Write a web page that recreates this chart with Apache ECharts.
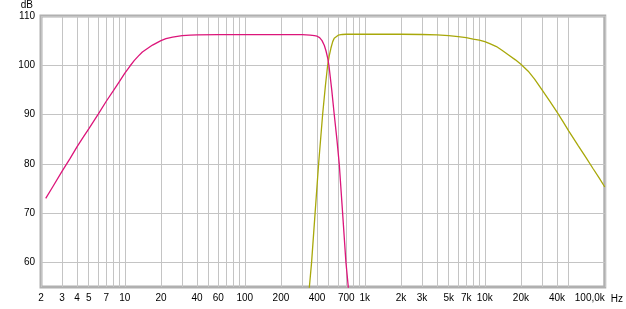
<!DOCTYPE html>
<html>
<head>
<meta charset="utf-8">
<script src="https://cdn.jsdelivr.net/npm/echarts@6/dist/echarts.min.js"></script>
<style>
html,body{margin:0;padding:0;background:#fff;}
#chart{width:626px;height:309px;}
</style>
</head>
<body>
<div id="chart"></div>
<script>
// Frequencies (Hz) of the x-axis labels and their texts
var xLabelFreqs = [2,3,4,5,7,10,20,40,60,100,200,400,700,1000,2000,3000,5000,7000,10000,20000,40000,100000];
var xLabelTexts = ['2','3','4','5','7','10','20','40','60','100','200','400','700','1k','2k','3k','5k','7k','10k','20k','40k','100,0k'];
// Frequencies (Hz) of vertical grid lines
var xGridFreqs = [2,3,4,5,6,7,8,9,10,20,30,40,50,60,70,80,90,100,200,300,400,500,600,700,800,900,1000,2000,3000,4000,5000,6000,7000,8000,9000,10000,20000,30000,40000,50000,100000];
// y-axis ticks (dB)
var yTicks = [60,70,80,90,100,110];

// Magenta curve (low-pass side): frequency (Hz) and level (dB)
var magentaFreq = [2.19,2.5,3,3.5,4,4.5,5,6,7,8,9,10,11,12,13,14,15,17,20,22,25,30,35,40,60,100,200,300,350,380,400,420,440,460,475,490,502,530,556,585,612,653,696,728,760];
var magentaDb   = [73.0,75.3,78.5,81.1,83.5,85.4,87.1,90.1,92.7,94.8,96.7,98.4,99.8,101.0,101.9,102.7,103.2,104.1,105.0,105.4,105.7,106.0,106.1,106.15,106.2,106.2,106.2,106.2,106.1,106.0,105.9,105.6,105.0,104.0,102.9,101.5,100.0,95.0,90.0,85.0,80.0,70.0,60.0,55.0,50.0];

// Olive curve (high-pass side + HF roll-off)
var oliveFreq = [330,345,360,385,412,445,470,490,505,522,540,556,575,600,650,700,1000,2000,3000,4000,5000,6000,7000,8000,9000,10000,11000,12500,14000,16000,18000,20000,23000,26000,30000,35000,40000,45000,50000,60000,70000,80000,90000,100000];
var oliveDb   = [50.0,55.0,60.0,70.0,80.0,90.0,96.0,100.0,101.9,103.5,104.8,105.5,105.85,106.1,106.25,106.3,106.3,106.3,106.25,106.15,106.0,105.8,105.6,105.3,105.1,104.8,104.4,103.8,103.0,102.0,101.1,100.2,98.8,97.2,95.0,92.6,90.5,88.5,86.7,83.7,81.2,79.0,77.1,75.3];

function lg(v){ return Math.log10(v); }
function pairs(fs, ds){ return fs.map(function(f,i){ return [lg(f), ds[i]]; }); }

var chart = echarts.init(document.getElementById('chart'), null, {renderer:'canvas'});
var font = 'Liberation Sans, Arial, sans-serif';

chart.setOption({
  animation: false,
  backgroundColor: '#ffffff',
  grid: {
    left: 41, right: 20, top: 16, bottom: 22,
    show: true, borderColor: '#b0b0b0', borderWidth: 3, backgroundColor: '#ffffff'
  },
  xAxis: {
    type: 'value',
    min: lg(2), max: lg(100000),
    name: 'Hz', nameLocation: 'end', nameGap: 6,
    nameTextStyle: {fontFamily: font, fontSize: 10, color: '#000', verticalAlign: 'top', padding: [7,0,0,0]},
    axisLine: {show: false},
    axisTick: {show: false, customValues: xGridFreqs.map(lg)},
    splitLine: {show: true, lineStyle: {color: '#c4c4c4', width: 1}},
    axisLabel: {
      customValues: xLabelFreqs.map(lg),
      margin: 6,
      fontFamily: font, fontSize: 10, color: '#000',
      alignMaxLabel: 'right',
      formatter: function(v){
        for (var i=0;i<xLabelFreqs.length;i++){ if (Math.abs(lg(xLabelFreqs[i])-v) < 1e-6) return xLabelTexts[i]; }
        return '';
      }
    }
  },
  yAxis: {
    type: 'value',
    min: 55, max: 110,
    name: 'dB', nameLocation: 'end', nameGap: 6,
    nameTextStyle: {fontFamily: font, fontSize: 10, color: '#000', align: 'right', verticalAlign: 'bottom', padding: [0,8,0,0]},
    axisLine: {show: false},
    axisTick: {show: false, customValues: yTicks},
    splitLine: {show: true, lineStyle: {color: '#c4c4c4', width: 1}},
    axisLabel: {customValues: yTicks, margin: 6, fontFamily: font, fontSize: 10, color: '#000'}
  },
  series: [
    {
      type: 'line', data: pairs(magentaFreq, magentaDb),
      showSymbol: false, symbol: 'none', smooth: false, clip: true,
      lineStyle: {color: '#dc157a', width: 1.3}, z: 3
    },
    {
      type: 'line', data: pairs(oliveFreq, oliveDb),
      showSymbol: false, symbol: 'none', smooth: false, clip: true,
      lineStyle: {color: '#a8a80a', width: 1.3}, z: 2
    }
  ]
});
</script>
</body>
</html>
